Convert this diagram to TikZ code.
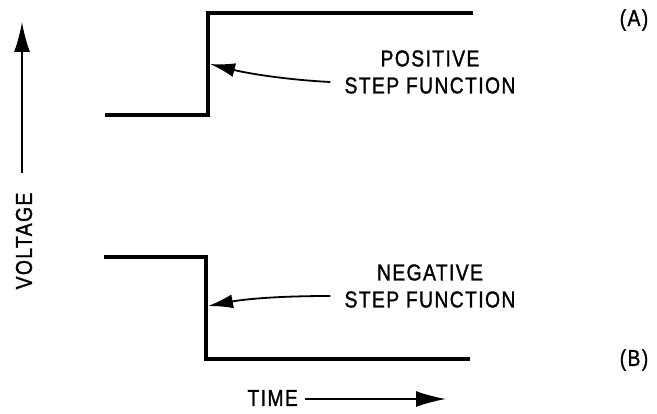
\documentclass[tikz,border=0pt]{standalone}
\usepackage{fontspec}
\setmainfont{Liberation Sans}[LetterSpace=6,FakeStretch=0.84,FakeBold=1.2]
\usetikzlibrary{arrows.meta}
\begin{document}
\begin{tikzpicture}[x=1pt,y=-1pt,
  wave/.style={line width=3.8pt,line cap=butt,line join=miter},
  pointer/.style={line width=1.8pt,-{Latex[length=25pt,width=14pt]}},
  lbl/.style={font=\fontsize{23}{27}\selectfont,align=center,inner sep=0pt},
  tag/.style={font=\fontsize{23}{27}\selectfont,inner sep=0pt}]
\useasboundingbox (0,0) rectangle (657,414);
% waveform A
\draw[wave] (105,115) -- (208,115) -- (208,13) -- (473,13);
\coordinate (pa) at (210,64);
% waveform B
\draw[wave] (104,257) -- (206,257) -- (206,359) -- (470,359);
\coordinate (pb) at (208,306);
% labels
\node[lbl] (posl) at (430,72) {POSITIVE\\STEP FUNCTION};
\node[lbl] (negl) at (430,286) {NEGATIVE\\STEP FUNCTION};
\node[tag] (A) at (634,20) {(A)};
\node[tag] (B) at (634,360) {(B)};
\node[tag,rotate=90] (volt) at (24,241) {VOLTAGE};
\node[tag,anchor=east] (time) at (298,398) {TIME};
\coordinate (vtip) at (22,22);
\coordinate (ttip) at (446,399);
% arrows
\draw[pointer] ([xshift=-14pt]posl.west|-0,82) .. controls (290,80) and (250,74) .. (pa);
\draw[pointer] ([xshift=-14pt]negl.west|-0,296) .. controls (270,296) and (240,300) .. (pb);
\draw[line width=1.8pt,-{Latex[length=30pt,width=16pt]}] (22,173) -- (vtip);
\draw[line width=1.8pt,-{Latex[length=30pt,width=16pt]}] (time.east) ++(7,1) -- (ttip);
\end{tikzpicture}
\end{document}
